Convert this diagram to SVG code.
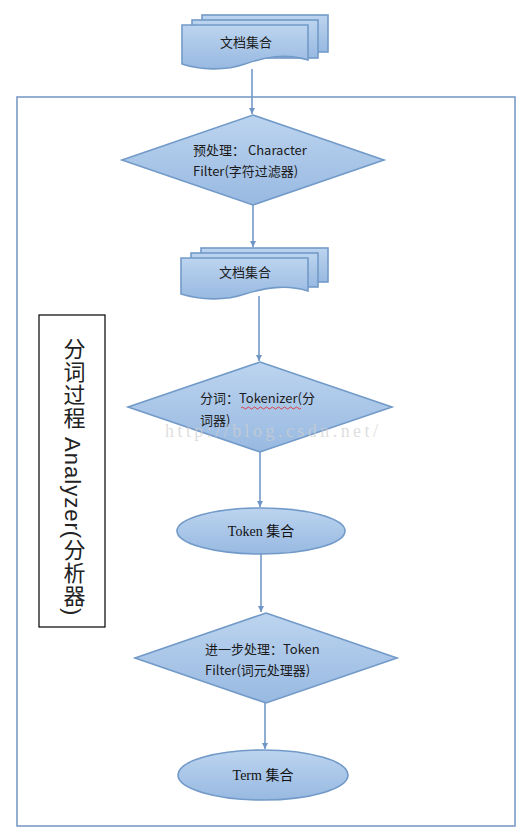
<svg xmlns="http://www.w3.org/2000/svg" width="530" height="836" viewBox="0 0 530 836">
<defs>
<linearGradient id="g" x1="0" y1="0" x2="0" y2="1">
<stop offset="0" stop-color="#bcd4ef"/>
<stop offset="1" stop-color="#98b9e1"/>
</linearGradient>
<marker id="ah" viewBox="0 0 10 10" refX="10" refY="5" markerWidth="4" markerHeight="4" orient="auto">
<path d="M0,0 L10,5 L0,10 Z" fill="#6f95c4"/>
</marker>
<style>
.s{fill:url(#g);stroke:#729ac8;stroke-width:1.6}
.c{stroke:#729ac8;stroke-width:1.6;fill:none;marker-end:url(#ah)}
.t{font-family:"Noto Sans CJK SC","Noto Sans",sans-serif;font-size:13px;fill:#1a1a1a}
.e{font-family:"Liberation Serif","Noto Sans CJK SC",serif;font-size:14px;fill:#111}
</style>
</defs>
<rect width="530" height="836" fill="#fff"/>
<rect x="17" y="97" width="498" height="729" fill="none" stroke="#7a9cc6" stroke-width="1.6"/>
<g id="doc1">
<rect class="s" x="202" y="15" width="126" height="37"/>
<rect class="s" x="192" y="20" width="126" height="38"/>
<path class="s" d="M182,25 H308 V60 C285,53 265,57 245,64 C225,71 200,70 182,64 Z"/>
<text class="t" x="246" y="47" text-anchor="middle" font-size="14">文档集合</text>
</g>
<g id="d1">
<path class="s" d="M253,115 L384,160 L253,205 L122,160 Z"/>
<text class="t" x="193" y="155">预处理： Character</text>
<text class="t" x="193" y="176">Filter(字符过滤器)</text>
</g>
<g id="doc2">
<rect class="s" x="201" y="248" width="127" height="34"/>
<rect class="s" x="191" y="253" width="127" height="34"/>
<path class="s" d="M181,258 H308 V291 C285,284 265,288 245,294 C225,301 200,300 181,294 Z"/>
<text class="t" x="245" y="277" text-anchor="middle" font-size="14">文档集合</text>
</g>
<g id="d2">
<path class="s" d="M260,362 L392,407 L260,452 L128,407 Z"/>
<text class="t" x="200" y="403">分词：Tokenizer(分</text>
<text class="t" x="200" y="425">词器)</text>
<path d="M241,408 q1.5,-2 3,0 t3,0 t3,0 t3,0 t3,0 t3,0 t3,0 t3,0 t3,0 t3,0 t3,0 t3,0 t3,0 t3,0 t3,0 t3,0 t3,0 t3,0 t3,0 t3,0" fill="none" stroke="#e02020" stroke-width="0.8"/>
</g>
<g id="e1">
<ellipse class="s" cx="261" cy="531" rx="84" ry="23"/>
<text class="e" x="261" y="536" text-anchor="middle">Token 集合</text>
</g>
<g id="d3">
<path class="s" d="M266,613 L397,658 L266,703 L135,658 Z"/>
<text class="t" x="205" y="654">进一步处理：Token</text>
<text class="t" x="205" y="675">Filter(词元处理器)</text>
</g>
<g id="e2">
<ellipse class="s" cx="263" cy="775" rx="85" ry="25"/>
<text class="e" x="263" y="780" text-anchor="middle">Term 集合</text>
</g>
<g id="side">
<rect x="39" y="315" width="66" height="312" fill="#fff" stroke="#000" stroke-width="1.2"/>
<text x="72" y="338" style="writing-mode:vertical-rl;text-orientation:mixed" font-family="Liberation Sans,'Noto Sans CJK SC',sans-serif" font-size="22" fill="#222" letter-spacing="1">分词过程 Analyzer(分析器)</text>
</g>
<g id="connectors">
<line class="c" x1="252" y1="69" x2="252" y2="114"/>
<line class="c" x1="253" y1="205" x2="253" y2="247"/>
<line class="c" x1="259" y1="296" x2="259" y2="361"/>
<line class="c" x1="260" y1="452" x2="260" y2="507"/>
<line class="c" x1="261" y1="554" x2="261" y2="612"/>
<line class="c" x1="265" y1="703" x2="265" y2="749"/>
</g>
<text x="165" y="437" font-family="Liberation Serif,serif" font-size="18" fill="#cfcfcf" fill-opacity="0.7" textLength="213">http://blog.csdn.net/</text>
</svg>
